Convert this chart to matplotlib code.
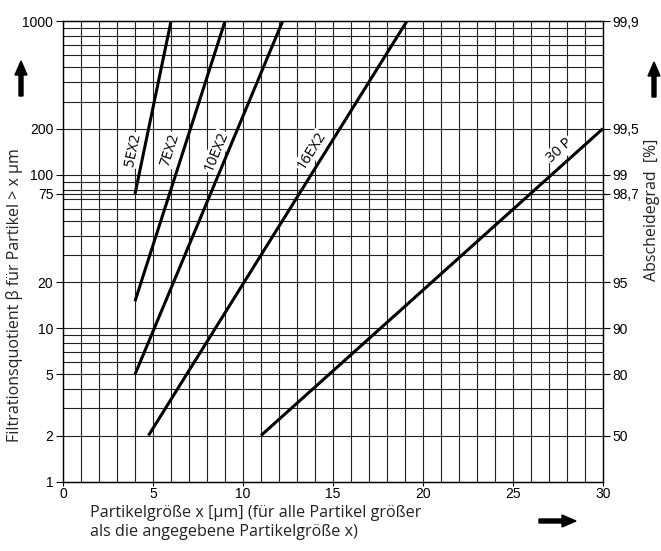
import numpy as np
import matplotlib
matplotlib.use("Agg")
import matplotlib.pyplot as plt
from matplotlib.patches import FancyArrow
from matplotlib.transforms import IdentityTransform

# Kennlinien: (Start x, Start beta) -> (Ende x, Ende beta)
curve_names = ["5EX2", "7EX2", "10EX2", "16EX2", "30 P"]
curve_x = [[4.0, 6.0], [4.0, 9.0], [4.0, 12.2], [4.75, 19.1], [11.0, 30.0]]
curve_beta = [[75, 1000], [15, 1000], [5, 1000], [2, 1000], [2, 200]]
label_x = [3.9, 5.95, 8.5, 13.8, 27.6]
label_beta = [145, 145, 141, 143, 143]

# Achsen
left_ticks = [1, 2, 5, 10, 20, 75, 100, 200, 1000]
right_ticks = [2, 5, 10, 20, 75, 100, 200, 1000]
right_labels = ["50", "80", "90", "95", "98,7", "99", "99,5", "99,9"]
x_ticks = [0, 5, 10, 15, 20, 25, 30]
grid_beta = [2, 3, 4, 5, 6, 7, 8, 9, 10, 20, 30, 40, 50, 60, 70, 75, 80, 90, 100,
             200, 300, 400, 500, 600, 700, 800, 900]
grid_x = np.arange(1, 30)

W, H = 661, 551
fig = plt.figure(figsize=(W / 100, H / 100), dpi=100)
ax = fig.add_axes([63 / W, 1 - 481.7 / H, 540 / W, 460.4 / H])
ax.set_yscale("log")
ax.set_xlim(0, 30)
ax.set_ylim(1, 1000)

for b in grid_beta:
    ax.axhline(b, color="#222222", lw=0.8, zorder=1)
for gx in grid_x:
    ax.axvline(gx, color="#222222", lw=0.8, zorder=1)

tick_font = {"family": "Liberation Sans", "size": 10}
ax.set_yticks(left_ticks)
ax.set_yticklabels([str(t) for t in left_ticks], fontdict=tick_font)
ax.yaxis.set_minor_locator(matplotlib.ticker.NullLocator())
ax.set_xticks(x_ticks)
ax.set_xticklabels([str(t) for t in x_ticks], fontdict=tick_font)
ax.tick_params(axis="y", length=5, width=0.8, pad=2)
ax.tick_params(axis="x", length=3, width=0.8, pad=1)

ax2 = ax.twinx()
ax2.set_yscale("log")
ax2.set_ylim(1, 1000)
ax2.set_yticks(right_ticks)
ax2.set_yticklabels(right_labels, fontdict=tick_font)
ax2.yaxis.set_minor_locator(matplotlib.ticker.NullLocator())
ax2.tick_params(axis="y", length=5, width=0.8, pad=2)

for a in (ax, ax2):
    for s in a.spines.values():
        s.set_linewidth(0.9)

fig.canvas.draw()
for name, xs, bs, lx, lb in zip(curve_names, curve_x, curve_beta, label_x, label_beta):
    ax.plot(xs, bs, color="black", lw=2.2, solid_capstyle="butt", zorder=3)
    p = ax.transData.transform(np.column_stack([xs, bs]))
    ang = np.degrees(np.arctan2(p[1, 1] - p[0, 1], p[1, 0] - p[0, 0]))
    ax.text(lx, lb, name, rotation=ang, rotation_mode="anchor", ha="center", va="center",
            fontsize=10.5, family="Open Sans", zorder=2,
            bbox=dict(boxstyle="square,pad=0.08", fc="white", ec="none"))

title_font = dict(family="Open Sans", color="#222222")
fig.text(15 / W, 1 - 295 / H, "Filtrationsquotient β für Partikel > x µm", rotation=90,
         ha="center", va="center", fontsize=11.5, **title_font)
fig.text(652 / W, 1 - 210 / H, "Abscheidegrad  [%]", rotation=90,
         ha="center", va="center", fontsize=11.5, **title_font)
fig.text(90 / W, 1 - 505 / H, "Partikelgröße x [µm] (für alle Partikel größer\nals die angegebene Partikelgröße x)",
         ha="left", va="top", fontsize=11.6, linespacing=1.25, **title_font)

# Pfeile
for x0, y0, dx, dy in [(21, 96, 0, -35), (654, 97, 0, -35), (539, 521, 37, 0)]:
    fig.add_artist(FancyArrow(x0, H - y0, dx, -dy, width=4, head_width=12, head_length=14,
                              length_includes_head=True, color="black",
                              transform=IdentityTransform()))

fig.savefig("out.png", dpi=100)
